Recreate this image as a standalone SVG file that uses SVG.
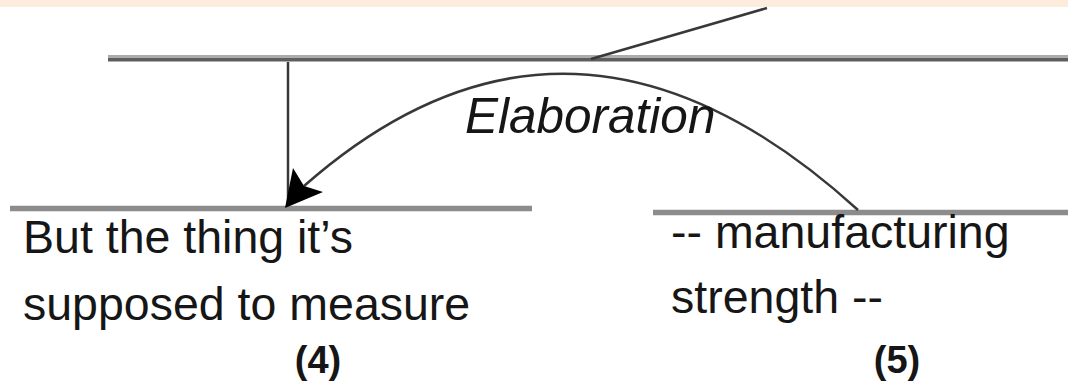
<svg xmlns="http://www.w3.org/2000/svg" width="1068" height="384" viewBox="0 0 1068 384">
  <style>
    .seg { stroke-linecap: butt; fill: none; }
    .txt { font-family: "Liberation Sans", Arial, sans-serif; font-size: 46.5px; fill: #161616; }
    .num { font-family: "Liberation Sans", Arial, sans-serif; font-size: 38px; font-weight: bold; fill: #161616; text-anchor: middle; }
    .rel { font-family: "Liberation Sans", Arial, sans-serif; font-size: 49.5px; font-style: italic; fill: #161616; }
    .conn { stroke: #383838; stroke-width: 2.5; fill: none; }
  </style>
  <rect x="0" y="0" width="1068" height="384" fill="#ffffff"/>
  <rect x="0" y="0" width="1068" height="7" fill="#fdebdb"/>

  <g id="node-top">
    <line class="seg" x1="108" y1="56" x2="1068" y2="56" stroke="#ababab" stroke-width="2"/>
    <line class="seg" x1="108" y1="59.5" x2="1068" y2="59.5" stroke="#5e5e5e" stroke-width="4"/>
  </g>

  <g id="node-4">
    <line class="seg" x1="10" y1="208.5" x2="532" y2="208.5" stroke="#8c8c8c" stroke-width="5.5"/>
    <text class="txt" x="23" y="253">But the thing it’s</text>
    <text class="txt" x="23" y="320">supposed to measure</text>
    <text class="num" x="318" y="373">(4)</text>
  </g>

  <g id="node-5">
    <line class="seg" x1="653" y1="212.5" x2="1068" y2="212.5" stroke="#8c8c8c" stroke-width="5.5"/>
    <text class="txt" x="671" y="248">-- manufacturing</text>
    <text class="txt" x="671" y="313">strength --</text>
    <text class="num" x="897" y="373">(5)</text>
  </g>

  <g id="connectors">
    <line class="conn" x1="591" y1="59" x2="767" y2="8" stroke-width="2.8"/>
    <line class="conn" x1="288" y1="62" x2="288" y2="205"/>
    <path class="conn" d="M858,210 Q572,-50 304,186"/>
    <polygon points="285,208 293,168 304,186 323,192" fill="#000000"/>
    <text class="rel" x="465" y="133">Elaboration</text>
  </g>
</svg>
